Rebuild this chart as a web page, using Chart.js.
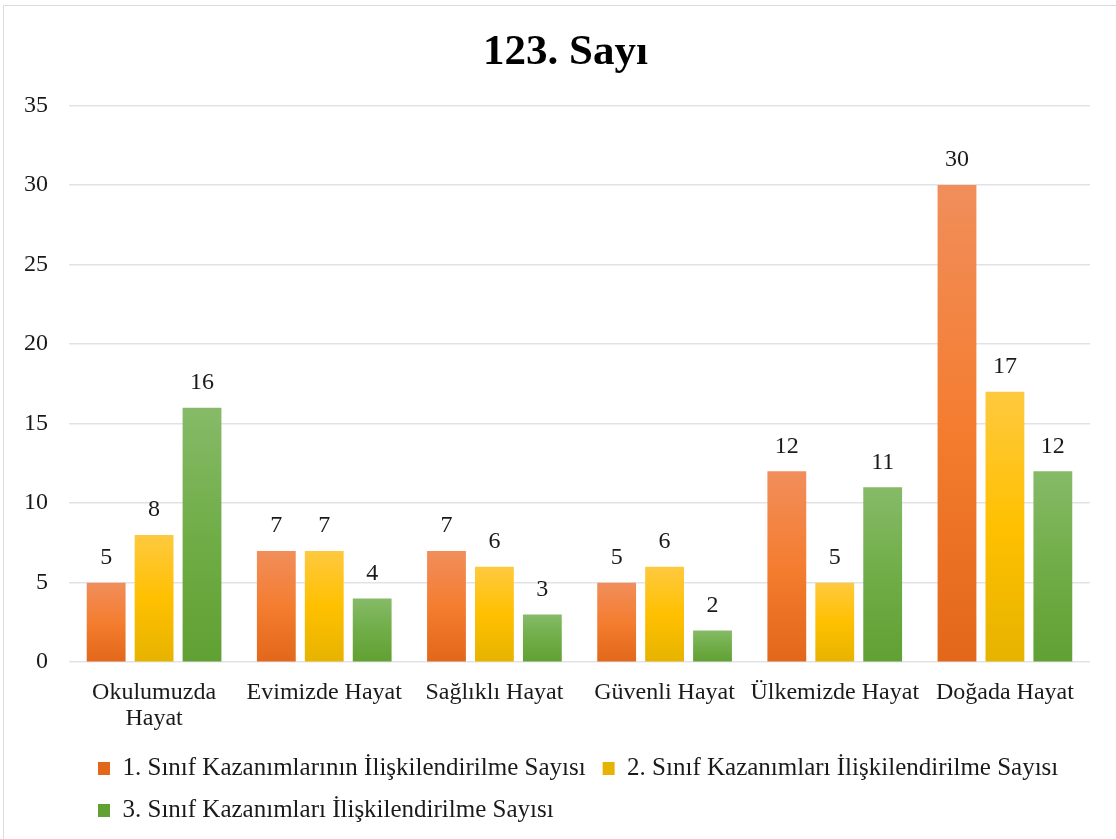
<!DOCTYPE html>
<html>
<head>
<meta charset="utf-8">
<script src="https://cdn.jsdelivr.net/npm/chart.js@4"></script>
<style>
  html, body { margin: 0; padding: 0; background: #fff; overflow: hidden; }
  #frame {
    position: absolute; left: 3px; top: 5px;
    width: 1126px; height: 860px;
    border: 1.5px solid #d9dde3; box-sizing: border-box;
  }
  #wrap { position: absolute; left: 3px; top: 5px; width: 1126px; height: 834px; }
</style>
</head>
<body>
<div id="frame"></div>
<div id="wrap"><canvas id="sayiChart"></canvas></div>
<script>
// Veriler
const kategoriler = ['Okulumuzda Hayat', 'Evimizde Hayat', 'Sağlıklı Hayat', 'Güvenli Hayat', 'Ülkemizde Hayat', 'Doğada Hayat'];
const sinif1 = [5, 7, 7, 5, 12, 30];
const sinif2 = [8, 7, 6, 6, 5, 17];
const sinif3 = [16, 4, 3, 2, 11, 12];
const seriAdlari = [
    '1. Sınıf Kazanımlarının İlişkilendirilme Sayısı',
    '2. Sınıf Kazanımları İlişkilendirilme Sayısı',
    '3. Sınıf Kazanımları İlişkilendirilme Sayısı'
];

const yazi = 'Liberation Serif, Times New Roman, serif';

// Excel tarzı dikey geçiş (üst açık, alt koyu)
function gecis(ust, orta, alt) {
    return function (context) {
        const chart = context.chart;
        if (!chart.chartArea || context.raw === undefined) return orta;
        const y = chart.scales.y;
        const top = y.getPixelForValue(context.raw);
        const bottom = y.getPixelForValue(0);
        if (!isFinite(top) || bottom - top < 1) return orta;
        const g = chart.ctx.createLinearGradient(0, top, 0, bottom);
        g.addColorStop(0, ust);
        g.addColorStop(0.5, orta);
        g.addColorStop(1, alt);
        return g;
    };
}

// Çubukların üstündeki değerler
const degerEtiketleri = {
    id: 'degerEtiketleri',
    afterDatasetsDraw(chart) {
        const ctx = chart.ctx;
        ctx.save();
        ctx.font = '24px ' + yazi;
        ctx.fillStyle = '#1a1a1a';
        ctx.textAlign = 'center';
        ctx.textBaseline = 'middle';
        chart.data.datasets.forEach((ds, i) => {
            chart.getDatasetMeta(i).data.forEach((bar, j) => {
                ctx.fillText(ds.data[j], bar.x, bar.y - 25);
            });
        });
        ctx.restore();
    }
};

// Başlığı ve lejantı Excel'deki yerine kaydır
const yerlesim = {
    id: 'yerlesim',
    afterLayout(chart) {
        if (chart.legend) {
            chart.legend.left += 78;
            chart.legend.top -= 2;
        }
        if (chart.titleBlock) {
            chart.titleBlock.left += 19;
            chart.titleBlock.right += 19;
        }
    }
};

const ctx = document.getElementById('sayiChart').getContext('2d');
const sayiChart = new Chart(ctx, {
    type: 'bar',
    data: {
        labels: kategoriler,
        datasets: [{
            label: seriAdlari[0],
            data: sinif1,
            backgroundColor: gecis('#F18E5B', '#F47D30', '#E2671A')
        }, {
            label: seriAdlari[1],
            data: sinif2,
            backgroundColor: gecis('#FFC93F', '#FFC000', '#E6B300')
        }, {
            label: seriAdlari[2],
            data: sinif3,
            backgroundColor: gecis('#86BA68', '#70AD47', '#61A033')
        }]
    },
    plugins: [degerEtiketleri, yerlesim],
    options: {
        responsive: true,
        maintainAspectRatio: false,
        animation: false,
        categoryPercentage: 0.845,
        barPercentage: 0.81,
        layout: { padding: { left: 0, right: 39, top: 0, bottom: 4 } },
        plugins: {
            title: {
                display: true,
                text: '123. Sayı',
                color: '#000',
                font: { family: yazi, size: 43, weight: 'bold' },
                padding: { top: 22, bottom: 27 }
            },
            legend: {
                position: 'bottom',
                align: 'start',
                labels: {
                    color: '#1a1a1a',
                    font: { family: yazi, size: 25 },
                    boxWidth: 12,
                    boxHeight: 13,
                    padding: 17
                }
            },
            tooltip: { enabled: false }
        },
        scales: {
            y: {
                min: 0,
                max: 35,
                ticks: {
                    stepSize: 5,
                    color: '#1a1a1a',
                    font: { family: yazi, size: 24 },
                    padding: 21
                },
                grid: { color: '#dfe3e8', lineWidth: 1.5, drawTicks: false },
                border: { display: false }
            },
            x: {
                ticks: {
                    color: '#1a1a1a',
                    font: { family: yazi, size: 24, lineHeight: 1.1 },
                    maxRotation: 0,
                    autoSkip: false,
                    padding: 9,
                    callback: function (value) {
                        const ad = this.getLabelForValue(value);
                        return ad.length >= 16 ? ad.split(' ') : ad;
                    }
                },
                grid: { display: false },
                border: { display: false }
            }
        }
    }
});
</script>
</body>
</html>
